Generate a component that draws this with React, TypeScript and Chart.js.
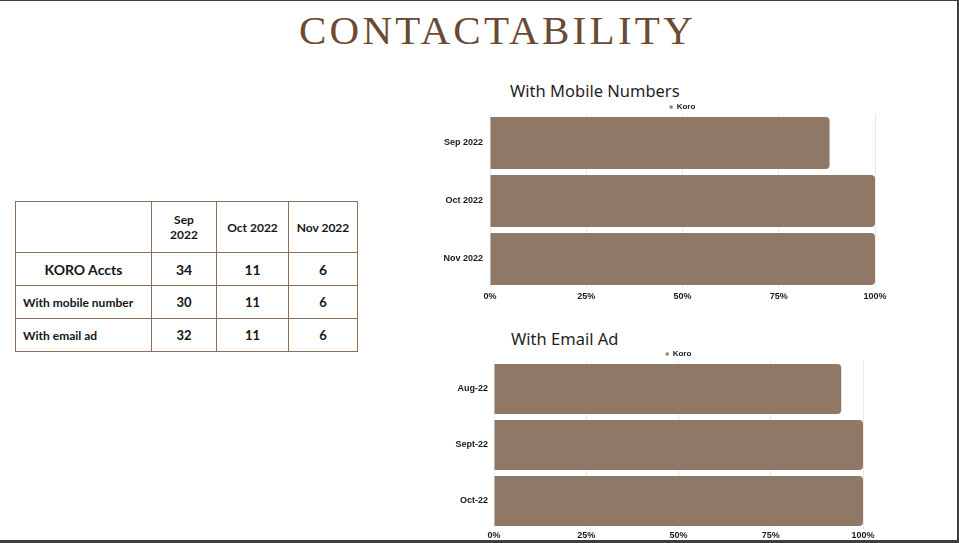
import React, { useEffect, useRef } from "react";
import { Chart, registerables } from "chart.js";

Chart.register(...registerables);

const mobileCategories = ["Sep 2022", "Oct 2022", "Nov 2022"];
const mobileValues = [88.2, 100, 100];
const emailCategories = ["Aug-22", "Sept-22", "Oct-22"];
const emailValues = [94.1, 100, 100];
const seriesName = "Koro";
const xTicks = [0, 25, 50, 75, 100];

const tableMonths = ["Sep 2022", "Oct 2022", "Nov 2022"];
const koroAccts = [34, 11, 6];
const withMobile = [30, 11, 6];
const withEmail = [32, 11, 6];

const BAR = "#8f7866";
const FONT = "'Liberation Sans', Arial, sans-serif";

function makeConfig(labels: string[], values: number[], yPad: number, xPad: number, xH: number): any {
  return {
    type: "bar",
    data: {
      labels,
      datasets: [
        {
          label: seriesName,
          data: values,
          backgroundColor: BAR,
          borderRadius: 4,
          borderSkipped: "start",
          categoryPercentage: 1,
          barPercentage: 0.895,
        },
      ],
    },
    options: {
      indexAxis: "y",
      responsive: false,
      animation: false,
      devicePixelRatio: 1,
      layout: { padding: { left: 0, right: 15, top: 0, bottom: 0 } },
      plugins: {
        tooltip: { enabled: false },
        title: { display: false },
        legend: {
          display: true,
          position: "top",
          fullSize: false,
          maxHeight: 13,
          labels: {
            boxWidth: 3,
            boxHeight: 3,
            padding: 2,
            color: "#1a1a1a",
            font: { family: FONT, size: 8, weight: "bold" },
          },
        },
      },
      scales: {
        x: {
          min: 0,
          max: 100,
          afterBuildTicks: (s: any) => {
            s.ticks = xTicks.map((v) => ({ value: v }));
          },
          afterFit: (s: any) => {
            s.height = xH;
          },
          grid: { color: "#e9e9e9", drawTicks: false },
          border: { display: false },
          ticks: {
            padding: xPad,
            color: "#1a1a1a",
            font: { family: FONT, size: 9, weight: "bold" },
            callback: (v: any) => v + "%",
          },
        },
        y: {
          afterFit: (s: any) => {
            s.width = 60;
          },
          grid: { display: false, drawTicks: false },
          border: { display: false },
          ticks: {
            padding: yPad,
            color: "#1a1a1a",
            font: { family: FONT, size: 9, weight: "bold" },
          },
        },
      },
    },
  };
}

function BarChart(props: { labels: string[]; values: number[]; left: number; top: number; width: number; height: number; yPad: number; xPad: number; xH: number }) {
  const ref = useRef<HTMLCanvasElement | null>(null);
  useEffect(() => {
    if (!ref.current) return;
    const c = new Chart(ref.current, makeConfig(props.labels, props.values, props.yPad, props.xPad, props.xH));
    return () => c.destroy();
  }, []);
  return (
    <canvas
      ref={ref}
      width={props.width}
      height={props.height}
      style={{ position: "absolute", left: props.left, top: props.top, width: props.width, height: props.height }}
    />
  );
}

const cell: React.CSSProperties = {
  border: "1px solid #8b6e5b",
  padding: 0,
  textAlign: "center",
  verticalAlign: "middle",
  color: "#151515",
};

export default function App() {
  useEffect(() => {
    document.body.style.margin = "0";
  }, []);
  const rowLabel: React.CSSProperties = { ...cell, textAlign: "left", paddingLeft: 7, fontSize: 12, fontWeight: 700 };
  const num: React.CSSProperties = { ...cell, fontSize: 13, fontWeight: 700 };
  return (
    <div
      style={{
        position: "fixed",
        left: 0,
        top: 0,
        width: 959,
        height: 543,
        boxSizing: "border-box",
        borderTop: "1px solid #3c3f41",
        borderRight: "2px solid #3c3f41",
        borderBottom: "3px solid #3c3f41",
        background: "#fff",
        overflow: "hidden",
        fontFamily: "Lato, sans-serif",
      }}
    >
      <div
        style={{
          position: "absolute",
          left: 0,
          top: 9,
          width: 995,
          textAlign: "center",
          fontFamily: "'Liberation Serif', 'Times New Roman', serif",
          fontSize: 41,
          lineHeight: "41px",
          letterSpacing: 3.3,
          color: "#6a4a32",
        }}
      >
        CONTACTABILITY
      </div>

      <table
        style={{
          position: "absolute",
          left: 15,
          top: 200,
          width: 342,
          borderCollapse: "collapse",
          tableLayout: "fixed",
        }}
      >
        <colgroup>
          <col style={{ width: 136 }} />
          <col style={{ width: 65 }} />
          <col style={{ width: 72 }} />
          <col style={{ width: 69 }} />
        </colgroup>
        <tbody>
          <tr style={{ height: 51 }}>
            <td style={cell}></td>
            <td style={{ ...cell, fontSize: 12, fontWeight: 700, lineHeight: "15px" }}>
              Sep
              <br />
              2022
            </td>
            <td style={{ ...cell, fontSize: 12, fontWeight: 700 }}>{tableMonths[1]}</td>
            <td style={{ ...cell, fontSize: 12, fontWeight: 700 }}>{tableMonths[2]}</td>
          </tr>
          <tr style={{ height: 33 }}>
            <td style={{ ...cell, fontSize: 14, fontWeight: 700 }}>KORO Accts</td>
            {koroAccts.map((v, i) => (
              <td key={i} style={{ ...num, fontSize: 14 }}>{v}</td>
            ))}
          </tr>
          <tr style={{ height: 33 }}>
            <td style={rowLabel}>With mobile number</td>
            {withMobile.map((v, i) => (
              <td key={i} style={num}>{v}</td>
            ))}
          </tr>
          <tr style={{ height: 33 }}>
            <td style={rowLabel}>With email ad</td>
            {withEmail.map((v, i) => (
              <td key={i} style={num}>{v}</td>
            ))}
          </tr>
        </tbody>
      </table>

      <div
        style={{
          position: "absolute",
          left: 510,
          top: 81,
          fontFamily: "'Noto Sans', sans-serif",
          fontSize: 16.5,
          lineHeight: "17px",
          color: "#1f1f1f",
          whiteSpace: "nowrap",
        }}
      >
        With Mobile Numbers
      </div>
      <BarChart labels={mobileCategories} values={mobileValues} left={430} top={100} width={460} height={205} yPad={7} xPad={3} xH={18} />

      <div
        style={{
          position: "absolute",
          left: 511,
          top: 329,
          fontFamily: "'Noto Sans', sans-serif",
          fontSize: 16.5,
          lineHeight: "17px",
          color: "#1f1f1f",
          whiteSpace: "nowrap",
        }}
      >
        With Email Ad
      </div>
      <BarChart labels={emailCategories} values={emailValues} left={434} top={347} width={444} height={195} yPad={6} xPad={1} xH={14} />
    </div>
  );
}
